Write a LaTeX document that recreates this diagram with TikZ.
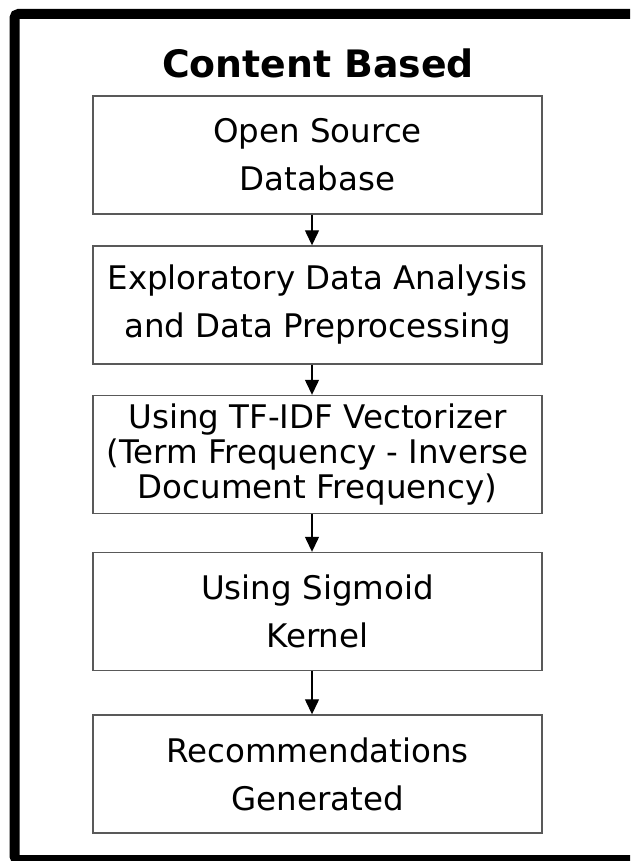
\documentclass[tikz,border=0pt]{standalone}
\usepackage{fontspec}
\setmainfont{DejaVu Sans}
\usetikzlibrary{arrows.meta}
\tikzset{
  stepbox/.style={draw=black!65, line width=1.4pt, fill=white, minimum width=449pt, minimum height=118pt,
    inner sep=0pt, align=center, font=\fontsize{32.5}{48}\selectfont},
  tightbox/.style={stepbox, font=\fontsize{32.5}{35}\selectfont},
  flow/.style={draw=black, line width=1.3pt, -{Triangle[width=14pt,length=15pt]}},
}
\begin{document}
\begin{tikzpicture}[x=1pt,y=-1pt]
\useasboundingbox (0,0) rectangle (630,861);
\clip (0,0) rectangle (630,861);
\fill[white] (0,0) rectangle (630,861);
\draw[line width=10pt, rounded corners=4pt] (14.5,14) rectangle (660,860);
\node[font=\bfseries\fontsize{37.8}{44}\selectfont] (title) at (318,63) {Content Based};
\node[stepbox] (a) at (317.5,155) {Open Source\\Database};
\node[stepbox] (b) at (317.5,305) {Exploratory Data Analysis\\and Data Preprocessing};
\node[tightbox] (c) at (317.5,454.5) {Using TF-IDF Vectorizer\\(Term Frequency - Inverse\\Document Frequency)};
\node[stepbox] (d) at (317.5,611.5) {Using Sigmoid\\Kernel};
\node[stepbox] (e) at (317.5,774) {Recommendations\\Generated};
\draw[flow] ([xshift=-5.5pt]a.south) -- ([xshift=-5.5pt]b.north);
\draw[flow] ([xshift=-5.5pt]b.south) -- ([xshift=-5.5pt]c.north);
\draw[flow] ([xshift=-5.5pt]c.south) -- ([xshift=-5.5pt]d.north);
\draw[flow] ([xshift=-5.5pt]d.south) -- ([xshift=-5.5pt]e.north);
\end{tikzpicture}
\end{document}
